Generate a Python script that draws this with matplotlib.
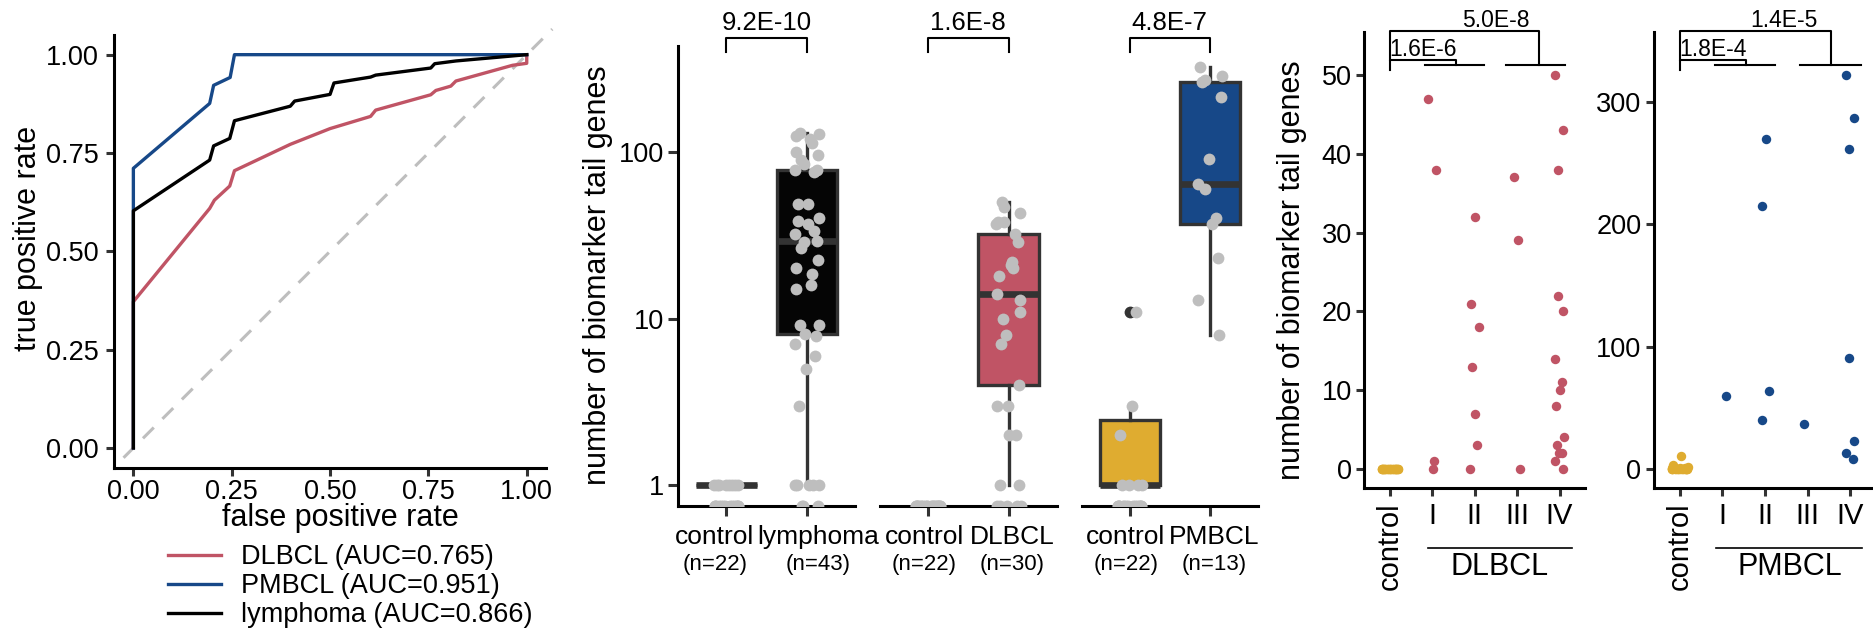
import numpy as np
import matplotlib
matplotlib.use('Agg')
import matplotlib.pyplot as plt

plt.rcParams['font.family'] = ['Liberation Sans', 'DejaVu Sans']

W, H = 1874, 628

RED = '#C05465'
BLUE = '#174888'
YEL = '#DFAC30'
BOXK = '#050505'
DARK = '#333333'
GREY = '#BEBEBE'

# ROC curves
dlbcl_fpr = [0, 0, 0.194, 0.206, 0.245, 0.257, 0.399, 0.5, 0.603, 0.616, 0.756, 0.769, 0.807, 0.82, 0.964, 1.0, 1.0]
dlbcl_tpr = [0, 0.372, 0.609, 0.63, 0.666, 0.705, 0.772, 0.812, 0.843, 0.859, 0.898, 0.909, 0.92, 0.933, 0.973, 0.978, 1.0]
pmbcl_fpr = [0, 0, 0.194, 0.204, 0.246, 0.257, 1.0]
pmbcl_tpr = [0, 0.711, 0.876, 0.922, 0.942, 1.0, 1.0]
lymph_fpr = [0, 0, 0.194, 0.204, 0.245, 0.257, 0.399, 0.41, 0.5, 0.51, 0.603, 0.616, 0.756, 0.766, 0.82, 1.0]
lymph_tpr = [0, 0.603, 0.732, 0.768, 0.787, 0.832, 0.869, 0.882, 0.899, 0.928, 0.943, 0.948, 0.966, 0.977, 0.984, 1.0]
roc_labels = ['DLBCL (AUC=0.765)', 'PMBCL (AUC=0.951)', 'lymphoma (AUC=0.866)']
ref_line = [-0.025, 1.065]

# tail gene counts per sample
ctrl_lym = [0] * 14 + [1] * 8
lymphoma = [0, 0, 0, 1, 1, 1, 1, 1, 3, 5, 6, 7, 7.9, 8.1, 9.1, 9.1, 15, 16, 18.5, 20,
            22.6, 26.7, 29, 29.3, 32, 33.5, 37, 38.5, 40, 49, 49, 76, 78, 78.5, 85,
            90, 96, 100, 113, 119, 125, 128, 131]
ctrl_dlbcl = [0] * 22
ctrl_pmbcl = [0] * 15 + [1, 1, 1, 1, 2, 3, 11]

dlbcl_I = [38, 47, 1, 0]
dlbcl_II = [32, 21, 18, 13, 7, 3, 0]
dlbcl_III = [37, 29, 0]
dlbcl_IV = [50, 43, 38, 22, 20, 14, 11, 10, 8, 4, 3, 2, 2, 1, 0]
dlbcl_nostage = [0]

pmbcl_I = [60]
pmbcl_II = [270, 215, 64, 40]
pmbcl_III = [37]
pmbcl_IV = [322, 287, 262, 91, 23, 13, 8]

stage_ticks = ['control', 'I', 'II', 'III', 'IV']

TICK_FS = 19.5
TITLE_FS = 22


def px_axes(fig, left, top, right, bottom):
    return fig.add_axes([left / W, 1 - bottom / H, (right - left) / W, (bottom - top) / H])


def spread(n, width, phase=0.0):
    # repeatable horizontal scatter
    return width * np.sin(np.arange(n) * 2.39996 + phase)


def classic(ax, ticklen=6):
    for s in ('top', 'right'):
        ax.spines[s].set_visible(False)
    for s in ('left', 'bottom'):
        ax.spines[s].set_linewidth(2.2)
        ax.spines[s].set_color('black')
    ax.tick_params(length=ticklen, width=2.2, color=DARK, labelsize=TICK_FS, pad=3)
    ax.set_facecolor('none')


def log_box_stats(vals):
    v = np.log10([x for x in vals if x > 0])
    if len(v) == 0:
        return None
    q1, med, q3 = np.percentile(v, [25, 50, 75])
    iqr = q3 - q1
    lo = v[v >= q1 - 1.5 * iqr].min()
    hi = v[v <= q3 + 1.5 * iqr].max()
    fl = v[(v < lo) | (v > hi)]
    return dict(q1=10 ** q1, med=10 ** med, q3=10 ** q3, whislo=10 ** lo,
                whishi=10 ** hi, fliers=10 ** fl)


fig = plt.figure(figsize=(W / 100, H / 100), dpi=100)

# ---- ROC panel ----
ax = px_axes(fig, 113.7, 35, 546.4, 467.6)
classic(ax, 5.5)
ax.plot(ref_line, ref_line, color=GREY, lw=2.2, dashes=(5, 4), clip_on=False)
l1, = ax.plot(dlbcl_fpr, dlbcl_tpr, color=RED, lw=2.4)
l2, = ax.plot(pmbcl_fpr, pmbcl_tpr, color=BLUE, lw=2.4)
l3, = ax.plot(lymph_fpr, lymph_tpr, color='black', lw=2.4)
ax.set_xlim(-0.05, 1.05)
ax.set_ylim(-0.05, 1.05)
ticks = [0, 0.25, 0.5, 0.75, 1.0]
ax.set_xticks(ticks)
ax.set_yticks(ticks)
ax.set_xticklabels(['%.2f' % t for t in ticks])
ax.set_yticklabels(['%.2f' % t for t in ticks])
ax.tick_params(axis='y', pad=5)
ax.set_xlabel('false positive rate', fontsize=TITLE_FS)
ax.set_ylabel('true positive rate', fontsize=TITLE_FS)
ax.xaxis.set_label_coords(0.523, -0.117)
ax.yaxis.set_label_coords(-0.197, 0.53)
ax.xaxis.label.set_va('center')
ax.yaxis.label.set_va('center')
ax.legend([l1, l2, l3], roc_labels, loc='upper left', frameon=False, fontsize=19.5,
          bbox_to_anchor=(167.7 / W, 1 - 544 / H), bbox_transform=fig.transFigure,
          borderaxespad=0, borderpad=0, handlelength=1.95, handletextpad=0.75,
          labelspacing=0.12)

# ---- boxplots, one facet per comparison ----
facets = [
    (678.3, 855.0, ctrl_lym, lymphoma, 'lymphoma', BOXK, '9.2E-10', 22, 43, 0.145),
    (880.0, 1056.7, ctrl_dlbcl, dlbcl_I + dlbcl_II + dlbcl_III + dlbcl_IV + dlbcl_nostage,
     'DLBCL', RED, '1.6E-8', 22, 30, 0.05),
    (1081.7, 1257.7, ctrl_pmbcl, pmbcl_I + pmbcl_II + pmbcl_III + pmbcl_IV,
     'PMBCL', BLUE, '4.8E-7', 22, 13, 0.05),
]
ylo, yhi = 0.749, 435
for k, (left, right, ctrl, case, name, col, pval, n_ctrl, n_case, nudge) in enumerate(facets):
    ax = px_axes(fig, left, 45.7, right, 506)
    classic(ax, 7)
    ax.set_yscale('log')
    ax.set_ylim(ylo, yhi)
    ax.set_xlim(0.4, 2.6)
    for pos, vals, fc in ((1, ctrl, YEL), (2, case, col)):
        st = log_box_stats(vals)
        if st is not None:
            ax.bxp([st], positions=[pos], widths=0.75, patch_artist=True, showcaps=False,
                   boxprops=dict(facecolor=fc, edgecolor=DARK, linewidth=2.4),
                   medianprops=dict(color=DARK, linewidth=4.8, solid_capstyle='butt'),
                   whiskerprops=dict(color=DARK, linewidth=2.4),
                   flierprops=dict(marker='o', markerfacecolor=DARK, markeredgecolor='none',
                                   markersize=8.5))
        v = np.asarray(vals, dtype=float)
        y = np.where(v > 0, v, ylo)
        ax.plot(pos + spread(len(v), 0.15, pos + 1.5), y, 'o', ms=8.5, color=GREY,
                mec='none', zorder=5)
    ax.set_yticks([1, 10, 100])
    ax.set_yticklabels(['1', '10', '100'])
    ax.minorticks_off()
    ax.set_xticks([1, 2])
    ax.tick_params(axis='x', labelbottom=False)
    if k == 0:
        ax.set_ylabel('number of biomarker tail genes', fontsize=TITLE_FS)
        ax.yaxis.set_label_coords(-0.453, 0.502)
        ax.yaxis.label.set_va('center')
    else:
        ax.spines['left'].set_visible(False)
        ax.tick_params(axis='y', left=False, labelleft=False)
    tr = ax.get_xaxis_transform()
    for pos, lab, n in ((1 - nudge, 'control', n_ctrl), (2 + nudge, name, n_case)):
        ax.text(pos, -0.0667, lab, transform=tr, ha='center', va='center', fontsize=19)
        ax.text(pos, -0.1267, '(n=%d)' % n, transform=tr, ha='center', va='center',
                fontsize=16)
    ax.plot([1, 1, 2, 2], [0.9855, 1.016, 1.016, 0.9855], color='black', lw=1.5,
            transform=tr, clip_on=False)
    ax.text(1.5, 1.0487, pval, transform=tr, ha='center', va='center', fontsize=18.5)

# ---- counts by stage ----
stage_panels = [
    (1364.3, 1585.0, ctrl_dlbcl, [dlbcl_I, dlbcl_II, dlbcl_III, dlbcl_IV], RED, 'DLBCL',
     (-2.45, 55.5), [0, 10, 20, 30, 40, 50], '1.6E-6', '5.0E-8',
     dict(small=2.55, big=4.51, early=(1.83, 3.23), late=(3.74, 5.13), ts=1.78, tb=3.49,
          grp=(1.895, 5.29), gl=3.59)),
    (1654.0, 1876.0, ctrl_pmbcl, [pmbcl_I, pmbcl_II, pmbcl_III, pmbcl_IV], BLUE, 'PMBCL',
     (-15.8, 357.5), [0, 100, 200, 300], '1.8E-4', '1.4E-5',
     dict(small=2.56, big=4.54, early=(1.84, 3.24), late=(3.83, 5.24), ts=1.78, tb=3.44,
          grp=(1.86, 5.27), gl=3.58)),
]
for k, (left, right, ctrl, stages, col, name, ylim, yt, p_small, p_big, br) in enumerate(stage_panels):
    ax = px_axes(fig, left, 31.7, right, 488.3)
    classic(ax, 6)
    ax.set_xlim(0.4, 5.6)
    ax.set_ylim(*ylim)
    ax.plot(1 + spread(len(ctrl), 0.19), ctrl, 'o', ms=6.8, color=YEL, mec='none',
            clip_on=False)
    for i, vals in enumerate(stages, start=2):
        ax.plot(i + spread(len(vals), 0.1, i), vals, 'o', ms=6.8, color=col, mec='none',
                clip_on=False)
    ax.set_yticks(yt)
    ax.set_yticklabels([str(t) for t in yt])
    ax.set_xticks(range(1, 6))
    ax.set_xticklabels(stage_ticks, fontsize=21)
    ax.get_xticklabels()[0].set_rotation(90)
    ax.tick_params(axis='x', pad=4)
    if k == 0:
        ax.set_ylabel('number of biomarker tail genes', fontsize=TITLE_FS)
        ax.yaxis.set_label_coords(-0.329, 0.478)
        ax.yaxis.label.set_va('center')
    tr = ax.get_xaxis_transform()
    lw = 1.5
    ax.plot([1, 1, br['small'], br['small']], [0.916, 0.938, 0.938, 0.926],
            color='black', lw=lw, transform=tr, clip_on=False)
    ax.plot([1, 1, br['big'], br['big']], [0.938, 1.0015, 1.0015, 0.926],
            color='black', lw=lw, transform=tr, clip_on=False)
    ax.plot(br['early'], [0.926, 0.926], color='black', lw=lw, transform=tr, clip_on=False)
    ax.plot(br['late'], [0.926, 0.926], color='black', lw=lw, transform=tr, clip_on=False)
    ax.text(br['ts'], 0.961, p_small, transform=tr, ha='center', va='center', fontsize=16.5)
    ax.text(br['tb'], 1.024, p_big, transform=tr, ha='center', va='center', fontsize=16.5)
    ax.plot(br['grp'], [-0.130, -0.130], color='black', lw=1.2, transform=tr, clip_on=False)
    ax.text(br['gl'], -0.1717, name, transform=tr, ha='center', va='center', fontsize=TITLE_FS)

fig.savefig('out.png', dpi=100)
